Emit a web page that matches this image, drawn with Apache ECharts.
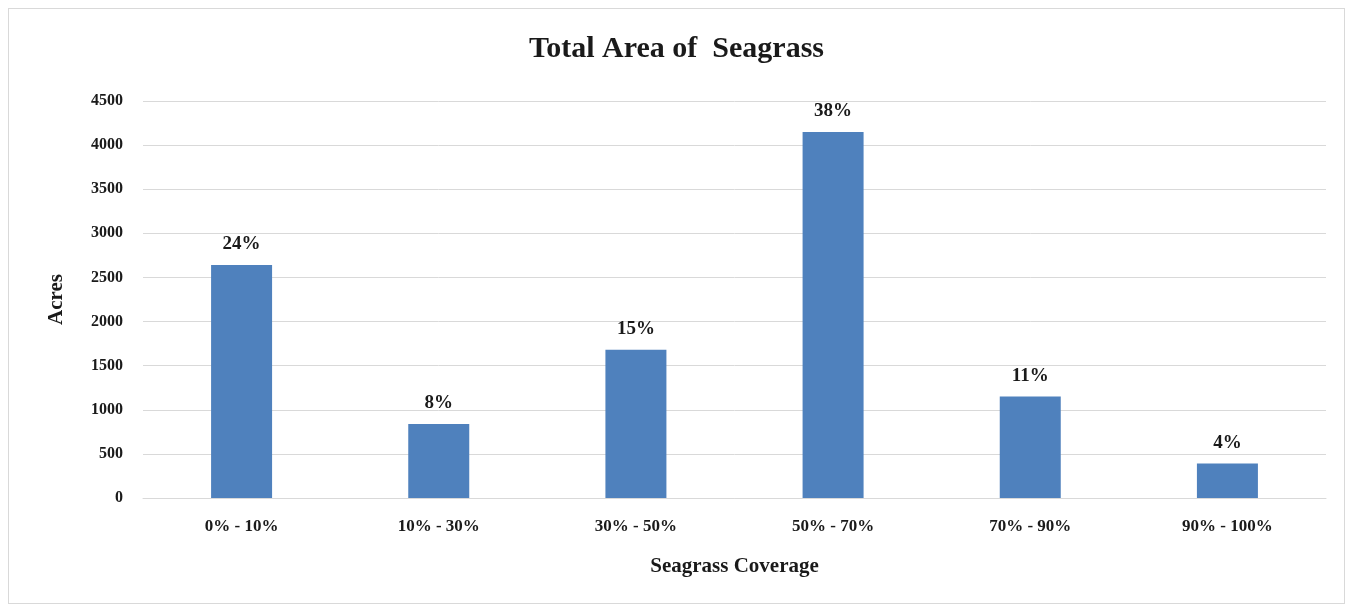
<!DOCTYPE html>
<html>
<head>
<meta charset="utf-8">
<script src="https://cdn.jsdelivr.net/npm/echarts@6/dist/echarts.min.js"></script>
<style>
  html, body { margin: 0; padding: 0; background: #fff; }
  #frame { position: absolute; left: 8px; top: 8px; width: 1337px; height: 596px; border: 1px solid #d9d9d9; box-sizing: border-box; }
  #chart { position: absolute; left: 0; top: 0; width: 1353px; height: 606px; }
</style>
</head>
<body>
<div id="frame"></div>
<div id="chart"></div>
<script>
  // 覆盖度分类
  const categories = ['0% - 10%', '10% - 30%', '30% - 50%', '50% - 70%', '70% - 90%', '90% - 100%']
  // 面积 (acres)
  const acres = [2640, 840, 1680, 4150, 1150, 390]
  // 柱顶的百分比标签
  const shares = ['24%', '8%', '15%', '38%', '11%', '4%']

  const serif = '"Liberation Serif", "DejaVu Serif", serif'
  const chart = echarts.init(document.getElementById('chart'))

  const option = {
    animation: false,
    title: {
      text: 'Total Area of  Seagrass',
      left: 'center',
      top: 29,
      textStyle: { fontFamily: serif, fontSize: 30, fontWeight: 'bold', color: '#1a1a1a' }
    },
    grid: { left: 143, right: 27, top: 101, bottom: 108 },
    xAxis: {
      type: 'category',
      data: categories,
      name: 'Seagrass Coverage',
      nameLocation: 'middle',
      nameGap: 58,
      nameTextStyle: { fontFamily: serif, fontSize: 21, fontWeight: 'bold', color: '#1a1a1a' },
      axisLine: { lineStyle: { color: '#d9d9d9' } },
      axisTick: { show: false },
      axisLabel: { fontFamily: serif, fontSize: 17, fontWeight: 'bold', color: '#1a1a1a', margin: 20 }
    },
    yAxis: {
      type: 'value',
      min: 0,
      max: 4500,
      interval: 500,
      name: 'Acres',
      nameLocation: 'middle',
      nameGap: 76,
      nameTextStyle: { fontFamily: serif, fontSize: 21, fontWeight: 'bold', color: '#1a1a1a' },
      axisLine: { show: false },
      axisTick: { show: false },
      splitLine: { lineStyle: { color: '#d9d9d9' } },
      axisLabel: { fontFamily: serif, fontSize: 16, fontWeight: 'bold', color: '#1a1a1a', margin: 20, formatter: v => String(v) }
    },
    series: [{
      type: 'bar',
      data: acres,
      barWidth: 61,
      itemStyle: { color: '#4f81bd' },
      label: {
        show: true,
        position: 'top',
        distance: 11,
        formatter: p => shares[p.dataIndex],
        fontFamily: serif,
        fontSize: 19,
        fontWeight: 'bold',
        color: '#1a1a1a'
      }
    }]
  }
  chart.setOption(option)
</script>
</body>
</html>
